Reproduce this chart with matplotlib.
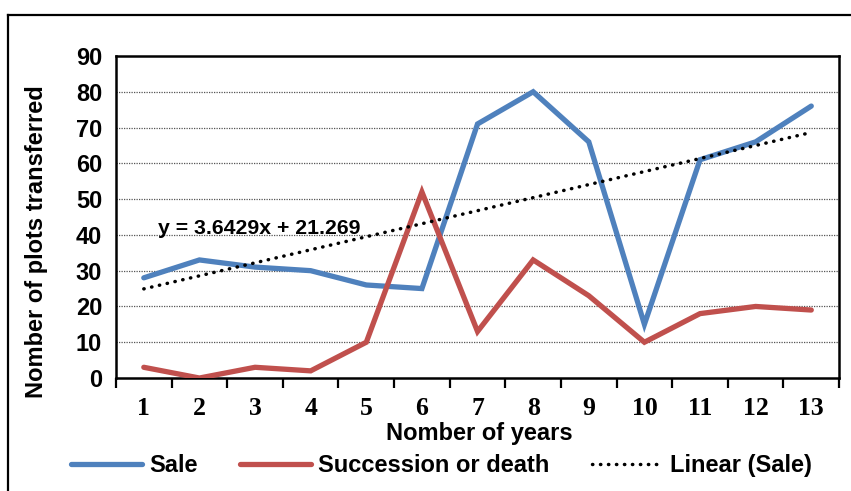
import numpy as np
import matplotlib.pyplot as plt
from matplotlib.lines import Line2D

years = np.arange(1, 14)
sale = [28, 33, 31, 30, 26, 25, 71, 80, 66, 15, 61, 66, 76]
succession = [3, 0, 3, 2, 10, 52, 13, 33, 23, 10, 18, 20, 19]
y_ticks = [0, 10, 20, 30, 40, 50, 60, 70, 80, 90]

# linear trend of sales
slope, intercept = np.polyfit(years, sale, 1)

fig = plt.figure(figsize=(8.51, 4.91), dpi=100)
ax = fig.add_axes([0.1363, 0.2301, 0.986 - 0.1363, 0.886 - 0.2301])

# outer chart frame
fig.add_artist(Line2D([0.0095, 1.0], [0.9695, 0.9695], color='black', lw=1.6))
fig.add_artist(Line2D([0.0095, 0.0095], [0.0, 0.9695], color='black', lw=1.6))

blue = '#4F81BD'
red = '#C0504D'
ax.plot(years, sale, color=blue, lw=3.8, solid_capstyle='round', solid_joinstyle='miter', label='Sale', zorder=3)
ax.plot(years, succession, color=red, lw=3.8, solid_capstyle='round', solid_joinstyle='miter', label='Succession or death', zorder=3)
ax.plot(years, slope * years + intercept, color='black', lw=2.5, linestyle=(0, (0.1, 2.2)),
        dash_capstyle='round', label='Linear (Sale)', zorder=4)

ax.text(1.26, 41.8, 'y = %.4fx + %.3f' % (slope, intercept), fontsize=15.3, fontweight='bold',
        family='Liberation Sans', va='center', ha='left')

ax.set_xlim(0.5, 13.5)
ax.set_ylim(0, 90)
ax.set_yticks(y_ticks)
ax.set_yticklabels([str(v) for v in y_ticks], fontsize=17, fontweight='bold', family='Liberation Sans')
ax.tick_params(axis='y', length=0, pad=10)
for v in y_ticks[1:-1]:
    ax.axhline(v, color='#555555', lw=0.9, linestyle=(0, (1, 1)), zorder=1)

ax.set_xticks(np.arange(0.5, 14, 1))
ax.set_xticklabels([])
ax.set_xticks(years, minor=True)
ax.set_xticklabels([str(y) for y in years], minor=True, fontsize=18.5, fontweight='bold', family='Liberation Serif')
ax.tick_params(axis='x', which='minor', length=0, pad=14)
ax.tick_params(axis='x', which='major', length=7, width=1.6, direction='out')

for s in ax.spines.values():
    s.set_linewidth(1.8)
    s.set_color('black')

ax.set_xlabel('Nomber of years', fontsize=17, fontweight='bold', family='Liberation Sans')
ax.xaxis.set_label_coords(0.503, -0.138)
ax.set_ylabel('Nomber of plots transferred', fontsize=17, fontweight='bold', family='Liberation Sans')
ax.yaxis.set_label_coords(-0.094, 0.422)

fig.legend(loc='center', bbox_to_anchor=(0.519, 0.051), ncol=3, frameon=False,
           prop={'family': 'Liberation Sans', 'weight': 'bold', 'size': 17},
           handlelength=3.0, handletextpad=0.3, columnspacing=1.8)

fig.savefig('out.png', dpi=100)
